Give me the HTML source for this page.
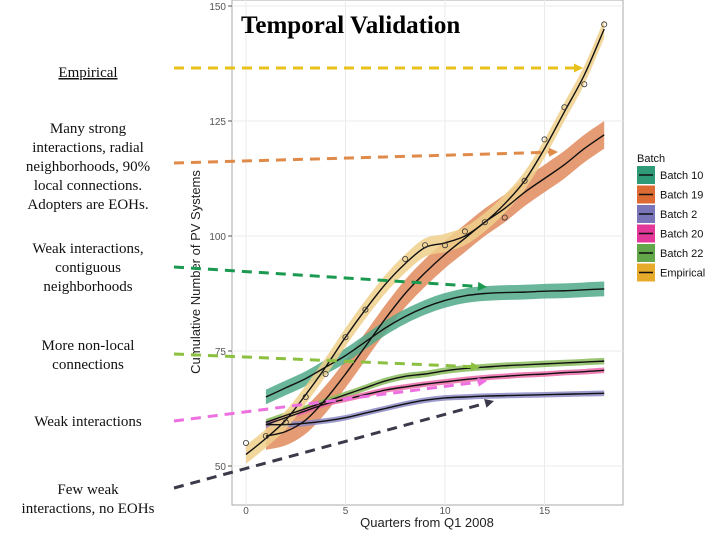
<!DOCTYPE html>
<html><head><meta charset="utf-8"><style>
body{margin:0;background:#fff;}
svg{display:block;}
</style></head><body>
<svg id="c" width="720" height="540" xmlns="http://www.w3.org/2000/svg" font-family="Liberation Sans, sans-serif">
<rect x="0" y="0" width="720" height="540" fill="#fff"/>
<rect x="232" y="0" width="391" height="505" fill="#fff" stroke="#aaa"/>
<g id="grid"></g>
<g id="bands"></g>
<g id="lines"></g>
<g id="pts"></g>
<g id="axes"></g>
<text x="241" y="33" font-family="Liberation Serif, serif" font-weight="bold" font-size="25">Temporal Validation</text>
<text transform="translate(200,272) rotate(-90)" text-anchor="middle" font-size="13" fill="#222">Cumulative Number of PV Systems</text>
<text x="427" y="527" text-anchor="middle" font-size="13" fill="#222">Quarters from Q1 2008</text>
<g id="legend"><text x="637" y="162" font-size="11" fill="#111">Batch</text></g>
<g font-family="Liberation Serif, serif" font-size="15" fill="#111" text-anchor="middle">
<text x="88" y="77" text-decoration="underline">Empirical</text>
<text x="88" y="133"><tspan x="88">Many strong</tspan><tspan x="88" dy="19">interactions, radial</tspan><tspan x="88" dy="19">neighborhoods, 90%</tspan><tspan x="88" dy="19">local connections.</tspan><tspan x="88" dy="19">Adopters are EOHs.</tspan></text>
<text x="88" y="253"><tspan x="88">Weak interactions,</tspan><tspan x="88" dy="19">contiguous</tspan><tspan x="88" dy="19">neighborhoods</tspan></text>
<text x="88" y="350"><tspan x="88">More non-local</tspan><tspan x="88" dy="19">connections</tspan></text>
<text x="88" y="426">Weak interactions</text>
<text x="88" y="494"><tspan x="88">Few weak</tspan><tspan x="88" dy="19">interactions, no EOHs</tspan></text>
</g>
<g id="arrows"></g>
</svg>
<script>
const xTicks=[0,5,10,15];
const yTicks=[50,75,100,125,150];
const empX=[0,1,2,3,4,5,6,8,9,10,11,12,13,14,15,16,17,18];
const empY=[55,56.5,59.5,65,70,78,84,95,98,98,101,103,104,112,121,128,133,146];
const empFit=[52.5,56,60,65.5,71.5,78,84,89.5,94,97.5,98.5,100,103,107,112,119,127,135,145];
const b19=[56.5,57.5,60,64.5,70,76,82,87.5,92,96,99.5,103,106,109.5,112.5,115.5,119,122];
const b10=[65,67,69,71.5,74,77,80,82.5,84.5,86,87,87.5,87.7,87.8,88,88.1,88.3,88.5];
const b22=[59.5,61,62.5,64,65.5,67,68.5,69.5,70,70.7,71.2,71.5,71.8,72,72.2,72.4,72.6,72.8];
const b20=[59,60.5,62,63.5,64.5,65.5,66.5,67.2,67.8,68.3,68.8,69.2,69.5,69.8,70,70.3,70.5,70.8];
const b2=[59,59,59.3,59.8,60.5,61.5,62.5,63.5,64.3,64.8,65,65.2,65.3,65.4,65.5,65.6,65.7,65.8];
const legendNames=["Batch 10","Batch 19","Batch 2","Batch 20","Batch 22","Empirical"];
const NS="http://www.w3.org/2000/svg";
const sx=v=>246+v*19.9, sy=v=>466-(v-50)*4.6;
function mk(t,a,p){const e=document.createElementNS(NS,t);for(const k in a)e.setAttribute(k,a[k]);document.getElementById(p).appendChild(e);return e;}
function path(pts){let d="M"+pts[0][0]+","+pts[0][1];for(let i=0;i<pts.length-1;i++){const p0=pts[Math.max(0,i-1)],p1=pts[i],p2=pts[i+1],p3=pts[Math.min(pts.length-1,i+2)];d+=" C"+(p1[0]+(p2[0]-p0[0])/6)+","+(p1[1]+(p2[1]-p0[1])/6)+" "+(p2[0]-(p3[0]-p1[0])/6)+","+(p2[1]-(p3[1]-p1[1])/6)+" "+p2[0]+","+p2[1];}return d;}
// grid
for(const t of yTicks){const g=mk("line",{x1:232,x2:623,y1:sy(t),y2:sy(t),stroke:"#ebebeb"},"grid");
const tk=mk("line",{x1:228,x2:232,y1:sy(t),y2:sy(t),stroke:"#555"},"axes");
const tx=mk("text",{x:226,y:sy(t)+4,"text-anchor":"end","font-size":"10",fill:"#555"},"axes");tx.textContent=t;}
for(const t of xTicks){const g=mk("line",{x1:sx(t),x2:sx(t),y1:0,y2:505,stroke:"#ebebeb"},"grid");
const tx=mk("text",{x:sx(t),y:514,"text-anchor":"middle","font-size":"10",fill:"#555"},"axes");tx.textContent=t;}
const series=[[b10,1,"#4fa98a",1.6,"batch-10"],[b19,1,"#e08a5c",3,"batch-19"],[b2,1,"#8c88c4",0.6,"batch-2"],[b20,1,"#ec6aa8",0.6,"batch-20"],[b22,1,"#88bb5c",0.7,"batch-22"],[empFit,0,"#f0d08c",2,"empirical"]];
const order=[1,0,4,3,2,5];
for(const i of order){const [ys,x0,col,w,nm]=series[i];
const up=ys.map((v,j)=>[sx(x0+j),sy(v+w)]),lo=ys.map((v,j)=>[sx(x0+j),sy(v-w)]).reverse();
const d=path(up)+" L"+lo[0][0]+","+lo[0][1]+path(lo).slice(path(lo).indexOf(" "))+"Z";
const b=mk("path",{d:d,fill:col,opacity:0.85},"bands");
const l=mk("path",{d:path(ys.map((v,j)=>[sx(x0+j),sy(v)])),fill:"none",stroke:"#111","stroke-width":1.4},"lines");}
empX.forEach((x,j)=>{const c=mk("circle",{cx:sx(x),cy:sy(empY[j]),r:2.6,fill:"none",stroke:"#333","stroke-width":0.8},"pts");});
const lcol=["#2e9a78","#dc6a32","#7a74b8","#e3389a","#62a84a","#e6ab2a"];
legendNames.forEach((n,i)=>{const y=166+i*19.5;
const r=mk("rect",{x:637,y:y,width:18,height:18,fill:lcol[i]},"legend");
const l=mk("line",{x1:639,x2:653,y1:y+9,y2:y+9,stroke:"#111","stroke-width":1.5},"legend");
const t=mk("text",{x:660,y:y+13,"font-size":"11",fill:"#111"},"legend");t.textContent=n;});
const arrows=[[174,68,583,68,"#e8c21a"],[174,163,558,152,"#e08a4a"],[174,267,487,287,"#1a9a50"],[174,354,480,367,"#8cc040"],[174,421,487,381,"#ee70e0"],[174,488,494,401,"#3a3a4a"]];
arrows.forEach(a=>{const [x1,y1,x2,y2,c]=a;const ang=Math.atan2(y2-y1,x2-x1);
const l=mk("line",{x1:x1,y1:y1,x2:x2-7*Math.cos(ang),y2:y2-7*Math.sin(ang),stroke:c,"stroke-width":3,"stroke-dasharray":"10,7"},"arrows");
const px=-Math.sin(ang),py=Math.cos(ang);
const h=mk("polygon",{points:x2+","+y2+" "+(x2-9*Math.cos(ang)+4.5*px)+","+(y2-9*Math.sin(ang)+4.5*py)+" "+(x2-9*Math.cos(ang)-4.5*px)+","+(y2-9*Math.sin(ang)-4.5*py),fill:c},"arrows");});
</script>
</body></html>
